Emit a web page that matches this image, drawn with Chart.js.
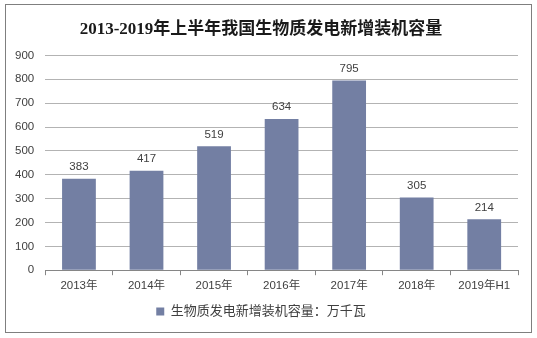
<!DOCTYPE html>
<html>
<head>
<meta charset="utf-8">
<script src="https://cdn.jsdelivr.net/npm/chart.js@4.4.0/dist/chart.umd.min.js"></script>
<style>
  html, body { margin: 0; padding: 0; background: #fff; }
  #wrap { width: 537px; height: 338px; position: relative; }
</style>
</head>
<body>
<div id="wrap"><canvas id="c"></canvas></div>
<script>
const categories = ['2013年', '2014年', '2015年', '2016年', '2017年', '2018年', '2019年H1'];
const capacity = [383, 417, 519, 634, 795, 305, 214];
const seriesName = '生物质发电新增装机容量：万千瓦';
const titleText = '2013-2019年上半年我国生物质发电新增装机容量';

// frame + value labels
const extras = {
  id: 'extras',
  beforeDraw(chart) {
    const c = chart.ctx;
    c.save();
    c.strokeStyle = '#7f7f7f';
    c.lineWidth = 1;
    c.strokeRect(5.5, 4.5, 526, 328);
    c.restore();
  },
  afterDatasetsDraw(chart) {
    const c = chart.ctx;
    const meta = chart.getDatasetMeta(0);
    c.save();
    c.font = '11.5px "Liberation Sans", Arial, sans-serif';
    c.fillStyle = '#404040';
    c.textAlign = 'center';
    c.textBaseline = 'bottom';
    meta.data.forEach((bar, i) => {
      c.fillText(capacity[i], bar.x, bar.y - 6);
    });
    c.restore();
  }
};

new Chart(document.getElementById('c'), {
  type: 'bar',
  data: {
    labels: categories,
    datasets: [{
      label: seriesName,
      data: capacity,
      backgroundColor: '#737fa3',
      categoryPercentage: 1.0,
      barPercentage: 0.5
    }]
  },
  options: {
    responsive: true,
    maintainAspectRatio: false,
    animation: false,
    layout: { padding: { left: 4, right: 19, top: 15, bottom: 10 } },
    plugins: {
      title: {
        display: true,
        text: titleText,
        color: '#1a1a1a',
        font: { family: '"Liberation Serif", "Noto Sans CJK SC", serif', size: 17, weight: 'bold' },
        padding: { top: 4, bottom: 16 }
      },
      legend: {
        position: 'bottom',
        labels: {
          color: '#404040',
          font: { family: '"Liberation Sans", "Noto Sans CJK SC", sans-serif', size: 13 },
          boxWidth: 8,
          boxHeight: 8,
          padding: 8
        }
      },
      tooltip: { enabled: false }
    },
    scales: {
      x: {
        grid: { display: true, drawOnChartArea: false, offset: true, color: '#868686', tickLength: 5 },
        border: { color: '#868686' },
        ticks: {
          color: '#404040',
          font: { family: '"Liberation Sans", "Noto Sans CJK SC", sans-serif', size: 11.5 },
          padding: 4,
          maxRotation: 0
        }
      },
      y: {
        min: 0,
        max: 900,
        ticks: {
          stepSize: 100,
          color: '#404040',
          font: { family: '"Liberation Sans", Arial, sans-serif', size: 11.5 },
          padding: 11
        },
        grid: { color: '#b3b3b3', drawTicks: false },
        border: { display: false }
      }
    }
  },
  plugins: [extras]
});
</script>
</body>
</html>
